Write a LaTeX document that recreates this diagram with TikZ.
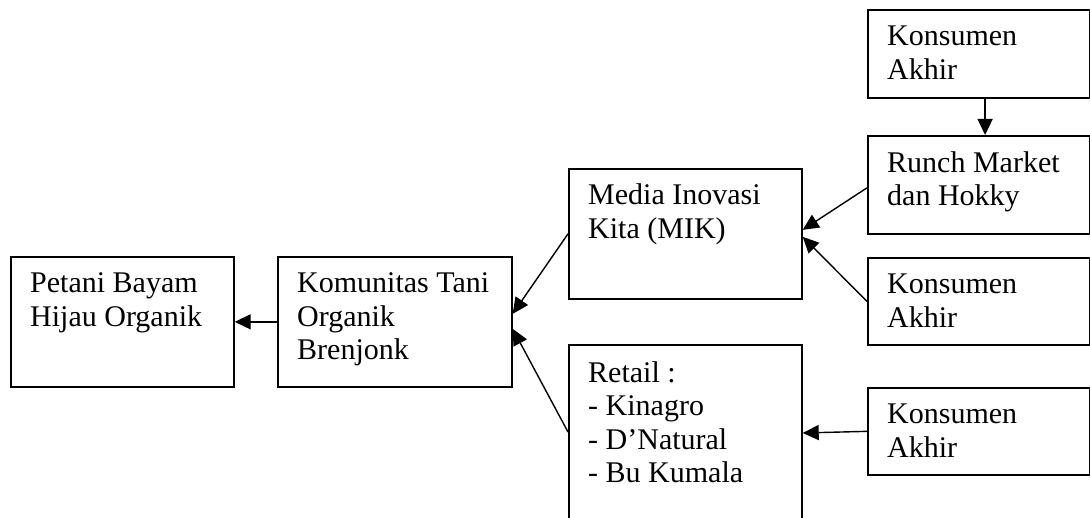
\documentclass[tikz,border=0pt]{standalone}
\usepackage{fontspec}
\setmainfont{Liberation Serif}
\usetikzlibrary{arrows.meta}
\begin{document}
\begin{tikzpicture}[x=1pt,y=-1pt,
  box/.style={draw, line width=1.7pt, inner sep=0pt, anchor=north west},
  txt/.style={anchor=north west, inner sep=0pt, align=left, font=\fontsize{30pt}{33.5pt}\selectfont},
  arr/.style={line width=1.4pt, -{Triangle[length=16pt,width=15pt]}}]
\useasboundingbox (0,0) rectangle (1090,518);
\clip (0,0) rectangle (1090,518);
% boxes
\node[box, minimum width=223pt, minimum height=130pt] (petani) at (10,256) {};
\node[box, minimum width=234pt, minimum height=130pt] (kom) at (277,256) {};
\node[box, minimum width=233pt, minimum height=130pt] (mik) at (568,168) {};
\node[box, minimum width=233pt, minimum height=196pt] (retail) at (568,344) {};
\node[box, minimum width=221.5pt, minimum height=88pt] (kA) at (867,9) {};
\node[box, minimum width=221.5pt, minimum height=98pt] (runch) at (867,135) {};
\node[box, minimum width=221.5pt, minimum height=87pt] (kB) at (867,257) {};
\node[box, minimum width=221.5pt, minimum height=87pt] (kC) at (867,387) {};
% texts
\node[txt] (petanit) at ([shift={(20pt,-13pt)}]petani.north west) {\strut Petani Bayam\\Hijau Organik};
\node[txt] (komt) at ([shift={(20pt,-13pt)}]kom.north west) {\strut Komunitas Tani\\Organik\\Brenjonk};
\node[txt] (mikt) at ([shift={(20pt,-13pt)}]mik.north west) {\strut Media Inovasi\\Kita (MIK)};
\node[txt] (retailt) at ([shift={(20pt,-14.5pt)}]retail.north west) {\strut Retail :\\- Kinagro\\- D’Natural\\- Bu Kumala};
\node[txt] (kAt) at ([shift={(20pt,-13pt)}]kA.north west) {\strut Konsumen\\Akhir};
\node[txt] (runcht) at ([shift={(20pt,-13.5pt)}]runch.north west) {\strut Runch Market\\dan Hokky};
\node[txt] (kBt) at ([shift={(20pt,-13pt)}]kB.north west) {\strut Konsumen\\Akhir};
\node[txt] (kCt) at ([shift={(20pt,-13pt)}]kC.north west) {\strut Konsumen\\Akhir};
% connectors
\draw[arr] (kom.west) -- (petani.east);
\draw[arr] (mik.west) -- ([yshift=8pt]kom.east);
\draw[arr] ([yshift=-88pt]retail.north west) -- ([yshift=-7pt]kom.east);
\draw[arr] ([yshift=-3pt]runch.west) -- ([yshift=4pt]mik.east);
\draw[arr] (kB.west) -- ([yshift=-3pt]mik.east);
\draw[arr] (kC.west) -- ([yshift=-89pt]retail.north east);
\draw[arr] ([xshift=6.5pt]kA.south) -- ([xshift=6.5pt]runch.north);
\end{tikzpicture}
\end{document}
